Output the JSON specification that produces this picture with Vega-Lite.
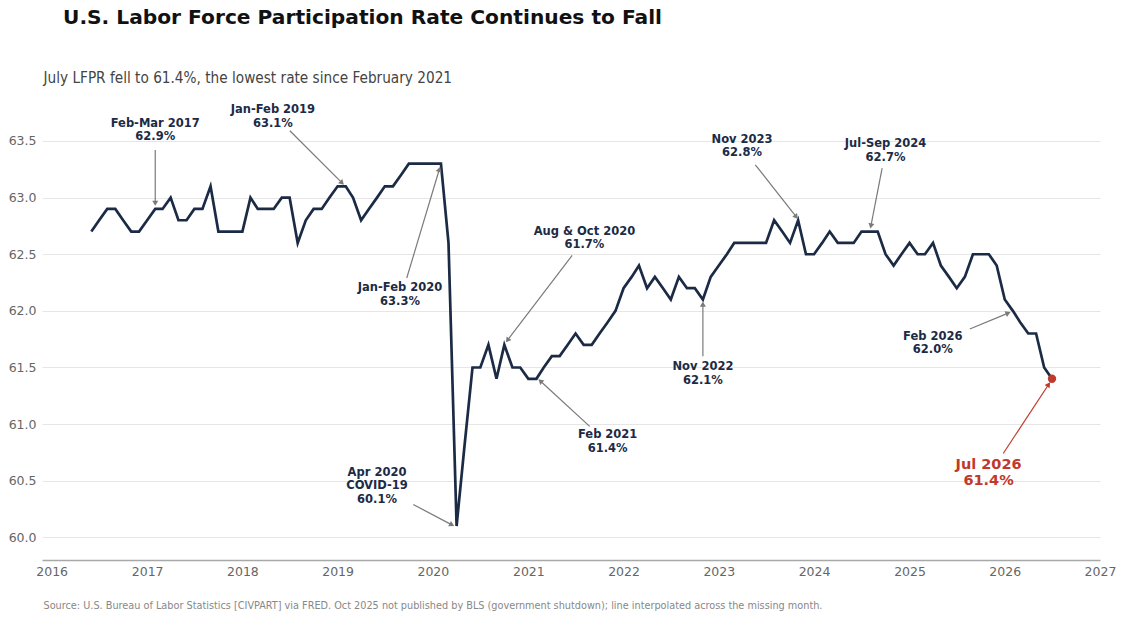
{
  "$schema": "https://vega.github.io/schema/vega-lite/v6.json",
  "description": "U.S. labor force participation rate, monthly, Jun 2016 - Jul 2026",
  "autosize": "none",
  "width": 1058,
  "height": 453,
  "padding": {"left": 42, "top": 107, "right": 25, "bottom": 62},
  "background": "white",
  "title": {
    "text": "U.S. Labor Force Participation Rate Continues to Fall",
    "anchor": "start",
    "frame": "group",
    "dx": 21,
    "offset": 42,
    "font": "DejaVu Sans",
    "fontSize": 20.2,
    "fontWeight": "bold",
    "color": "#111111"
  },
  "config": {
    "view": {"stroke": null},
    "font": "DejaVu Sans"
  },
  "datasets": {
    "lfpr": [
      {"date": "2016-06-01", "value": 62.7}, {"date": "2016-07-01", "value": 62.8}, {"date": "2016-08-01", "value": 62.9},
      {"date": "2016-09-01", "value": 62.9}, {"date": "2016-10-01", "value": 62.8}, {"date": "2016-11-01", "value": 62.7},
      {"date": "2016-12-01", "value": 62.7},
      {"date": "2017-01-01", "value": 62.8}, {"date": "2017-02-01", "value": 62.9}, {"date": "2017-03-01", "value": 62.9},
      {"date": "2017-04-01", "value": 63.0}, {"date": "2017-05-01", "value": 62.8}, {"date": "2017-06-01", "value": 62.8},
      {"date": "2017-07-01", "value": 62.9}, {"date": "2017-08-01", "value": 62.9}, {"date": "2017-09-01", "value": 63.1},
      {"date": "2017-10-01", "value": 62.7}, {"date": "2017-11-01", "value": 62.7}, {"date": "2017-12-01", "value": 62.7},
      {"date": "2018-01-01", "value": 62.7}, {"date": "2018-02-01", "value": 63.0}, {"date": "2018-03-01", "value": 62.9},
      {"date": "2018-04-01", "value": 62.9}, {"date": "2018-05-01", "value": 62.9}, {"date": "2018-06-01", "value": 63.0},
      {"date": "2018-07-01", "value": 63.0}, {"date": "2018-08-01", "value": 62.6}, {"date": "2018-09-01", "value": 62.8},
      {"date": "2018-10-01", "value": 62.9}, {"date": "2018-11-01", "value": 62.9}, {"date": "2018-12-01", "value": 63.0},
      {"date": "2019-01-01", "value": 63.1}, {"date": "2019-02-01", "value": 63.1}, {"date": "2019-03-01", "value": 63.0},
      {"date": "2019-04-01", "value": 62.8}, {"date": "2019-05-01", "value": 62.9}, {"date": "2019-06-01", "value": 63.0},
      {"date": "2019-07-01", "value": 63.1}, {"date": "2019-08-01", "value": 63.1}, {"date": "2019-09-01", "value": 63.2},
      {"date": "2019-10-01", "value": 63.3}, {"date": "2019-11-01", "value": 63.3}, {"date": "2019-12-01", "value": 63.3},
      {"date": "2020-01-01", "value": 63.3}, {"date": "2020-02-01", "value": 63.3}, {"date": "2020-03-01", "value": 62.6},
      {"date": "2020-04-01", "value": 60.1}, {"date": "2020-05-01", "value": 60.8}, {"date": "2020-06-01", "value": 61.5},
      {"date": "2020-07-01", "value": 61.5}, {"date": "2020-08-01", "value": 61.7}, {"date": "2020-09-01", "value": 61.4},
      {"date": "2020-10-01", "value": 61.7}, {"date": "2020-11-01", "value": 61.5}, {"date": "2020-12-01", "value": 61.5},
      {"date": "2021-01-01", "value": 61.4}, {"date": "2021-02-01", "value": 61.4}, {"date": "2021-03-01", "value": 61.5},
      {"date": "2021-04-01", "value": 61.6}, {"date": "2021-05-01", "value": 61.6}, {"date": "2021-06-01", "value": 61.7},
      {"date": "2021-07-01", "value": 61.8}, {"date": "2021-08-01", "value": 61.7}, {"date": "2021-09-01", "value": 61.7},
      {"date": "2021-10-01", "value": 61.8}, {"date": "2021-11-01", "value": 61.9}, {"date": "2021-12-01", "value": 62.0},
      {"date": "2022-01-01", "value": 62.2}, {"date": "2022-02-01", "value": 62.3}, {"date": "2022-03-01", "value": 62.4},
      {"date": "2022-04-01", "value": 62.2}, {"date": "2022-05-01", "value": 62.3}, {"date": "2022-06-01", "value": 62.2},
      {"date": "2022-07-01", "value": 62.1}, {"date": "2022-08-01", "value": 62.3}, {"date": "2022-09-01", "value": 62.2},
      {"date": "2022-10-01", "value": 62.2}, {"date": "2022-11-01", "value": 62.1}, {"date": "2022-12-01", "value": 62.3},
      {"date": "2023-01-01", "value": 62.4}, {"date": "2023-02-01", "value": 62.5}, {"date": "2023-03-01", "value": 62.6},
      {"date": "2023-04-01", "value": 62.6}, {"date": "2023-05-01", "value": 62.6}, {"date": "2023-06-01", "value": 62.6},
      {"date": "2023-07-01", "value": 62.6}, {"date": "2023-08-01", "value": 62.8}, {"date": "2023-09-01", "value": 62.7},
      {"date": "2023-10-01", "value": 62.6}, {"date": "2023-11-01", "value": 62.8}, {"date": "2023-12-01", "value": 62.5},
      {"date": "2024-01-01", "value": 62.5}, {"date": "2024-02-01", "value": 62.6}, {"date": "2024-03-01", "value": 62.7},
      {"date": "2024-04-01", "value": 62.6}, {"date": "2024-05-01", "value": 62.6}, {"date": "2024-06-01", "value": 62.6},
      {"date": "2024-07-01", "value": 62.7}, {"date": "2024-08-01", "value": 62.7}, {"date": "2024-09-01", "value": 62.7},
      {"date": "2024-10-01", "value": 62.5}, {"date": "2024-11-01", "value": 62.4}, {"date": "2024-12-01", "value": 62.5},
      {"date": "2025-01-01", "value": 62.6}, {"date": "2025-02-01", "value": 62.5}, {"date": "2025-03-01", "value": 62.5},
      {"date": "2025-04-01", "value": 62.6}, {"date": "2025-05-01", "value": 62.4}, {"date": "2025-06-01", "value": 62.3},
      {"date": "2025-07-01", "value": 62.2}, {"date": "2025-08-01", "value": 62.3}, {"date": "2025-09-01", "value": 62.5},
      {"date": "2025-10-01", "value": 62.5}, {"date": "2025-11-01", "value": 62.5}, {"date": "2025-12-01", "value": 62.4},
      {"date": "2026-01-01", "value": 62.1}, {"date": "2026-02-01", "value": 62.0}, {"date": "2026-03-01", "value": 61.9},
      {"date": "2026-04-01", "value": 61.8}, {"date": "2026-05-01", "value": 61.8}, {"date": "2026-06-01", "value": 61.5},
      {"date": "2026-07-01", "value": 61.4}
    ],
    "notes": [
      {"label": "Feb-Mar 2017\n62.9%", "kind": "normal", "tx": "2017-02-01", "ty": 63.65, "ax": "2017-02-01", "ay": 63.42, "hx": "2017-02-01", "hy": 62.95},
      {"label": "Jan-Feb 2019\n63.1%", "kind": "normal", "tx": "2018-04-28", "ty": 63.77, "ax": "2018-07-02", "ay": 63.59, "hx": "2019-01-18", "hy": 63.13},
      {"label": "Jan-Feb 2020\n63.3%", "kind": "normal", "tx": "2019-08-28", "ty": 62.2, "ax": "2019-09-23", "ay": 62.29, "hx": "2020-01-26", "hy": 63.25},
      {"label": "Apr 2020\nCOVID-19\n60.1%", "kind": "normal", "tx": "2019-06-01", "ty": 60.57, "ax": "2019-10-18", "ay": 60.29, "hx": "2020-03-14", "hy": 60.11},
      {"label": "Aug & Oct 2020\n61.7%", "kind": "normal", "tx": "2021-08-04", "ty": 62.7, "ax": "2021-06-18", "ay": 62.49, "hx": "2020-10-13", "hy": 61.74},
      {"label": "Feb 2021\n61.4%", "kind": "normal", "tx": "2021-11-01", "ty": 60.9, "ax": "2021-08-24", "ay": 60.98, "hx": "2021-02-16", "hy": 61.38},
      {"label": "Nov 2022\n62.1%", "kind": "normal", "tx": "2022-11-01", "ty": 61.5, "ax": "2022-11-01", "ay": 61.6, "hx": "2022-11-01", "hy": 62.06},
      {"label": "Nov 2023\n62.8%", "kind": "normal", "tx": "2023-03-31", "ty": 63.51, "ax": "2023-05-21", "ay": 63.29, "hx": "2023-10-25", "hy": 62.83},
      {"label": "Jul-Sep 2024\n62.7%", "kind": "normal", "tx": "2024-10-01", "ty": 63.47, "ax": "2024-09-18", "ay": 63.26, "hx": "2024-08-06", "hy": 62.75},
      {"label": "Feb 2026\n62.0%", "kind": "normal", "tx": "2025-03-31", "ty": 61.77, "ax": "2025-08-20", "ay": 61.84, "hx": "2026-01-14", "hy": 61.98},
      {"label": "Jul 2026\n61.4%", "kind": "latest", "tx": "2025-10-31", "ty": 60.64, "ax": "2025-12-26", "ay": 60.74, "hx": "2026-06-18", "hy": 61.35}
    ]
  },
  "layer": [
    {
      "data": {"name": "lfpr"},
      "mark": {"type": "line", "color": "#1c2b45", "strokeWidth": 2.7},
      "encoding": {
        "x": {
          "field": "date",
          "type": "temporal",
          "scale": {
            "type": "utc",
            "domain": [
              {"year": 2015, "month": 11, "date": 25, "utc": true},
              {"year": 2027, "month": 1, "date": 1, "utc": true}
            ],
            "nice": false
          },
          "axis": {
            "title": "Source: U.S. Bureau of Labor Statistics [CIVPART] via FRED. Oct 2025 not published by BLS (government shutdown); line interpolated across the missing month.",
            "titleX": 1,
            "titleY": 45,
            "titleAlign": "left",
            "titleAnchor": "start",
            "titleBaseline": "middle",
            "titleFont": "DejaVu Sans Condensed",
            "titleFontSize": 10.8,
            "titleFontWeight": "normal",
            "titleColor": "#888888",
            "format": "%Y",
            "tickCount": {"interval": "year", "step": 1},
            "ticks": false,
            "grid": false,
            "domainColor": "#a8a8a8",
            "domainWidth": 1.3,
            "labelColor": "#666666",
            "labelFontSize": 12.5,
            "labelPadding": 5,
            "labelFlush": false
          }
        },
        "y": {
          "field": "value",
          "type": "quantitative",
          "scale": {"domain": [59.8, 63.8], "nice": false, "zero": false},
          "axis": {
            "title": "July LFPR fell to 61.4%, the lowest rate since February 2021",
            "titleAngle": 0,
            "titleX": 1,
            "titleY": -30,
            "titleAlign": "left",
            "titleBaseline": "middle",
            "titleFont": "DejaVu Sans Condensed",
            "titleFontSize": 15.2,
            "titleFontWeight": "normal",
            "titleColor": "#444444",
            "values": [60.0, 60.5, 61.0, 61.5, 62.0, 62.5, 63.0, 63.5],
            "format": ".1f",
            "domain": false,
            "ticks": false,
            "gridColor": "#e6e6e6",
            "gridWidth": 1,
            "labelColor": "#666666",
            "labelFontSize": 12.5,
            "labelPadding": 6
          }
        }
      }
    },
    {
      "data": {"name": "notes"},
      "mark": {"type": "rule", "strokeWidth": 1.2},
      "encoding": {
        "x": {"field": "ax", "type": "temporal"},
        "y": {"field": "ay", "type": "quantitative"},
        "x2": {"field": "hx"},
        "y2": {"field": "hy"},
        "color": {
          "field": "kind",
          "type": "nominal",
          "scale": {"domain": ["normal", "latest"], "range": ["#7a7a7a", "#c0392b"]},
          "legend": null
        }
      }
    },
    {
      "data": {"name": "notes"},
      "transform": [
        {"calculate": "atan2((toDate(datum.hx) - toDate(datum.ax)) * 3.02e-9, (datum.hy - datum.ay) * 113.25) * 180 / PI", "as": "heading"}
      ],
      "mark": {"type": "point", "shape": "triangle-up", "filled": true, "opacity": 1, "size": 36},
      "encoding": {
        "x": {"field": "hx", "type": "temporal"},
        "y": {"field": "hy", "type": "quantitative"},
        "angle": {"field": "heading", "type": "quantitative", "scale": null},
        "color": {
          "field": "kind",
          "type": "nominal",
          "scale": {"domain": ["normal", "latest"], "range": ["#7a7a7a", "#c0392b"]},
          "legend": null
        }
      }
    },
    {
      "data": {"name": "notes"},
      "transform": [{"filter": "datum.kind == 'normal'"}],
      "mark": {
        "type": "text",
        "lineBreak": "\n",
        "lineHeight": 13.5,
        "align": "center",
        "baseline": "middle",
        "font": "DejaVu Sans",
        "fontSize": 11.5,
        "fontWeight": "bold",
        "color": "#1c2b45"
      },
      "encoding": {
        "x": {"field": "tx", "type": "temporal"},
        "y": {"field": "ty", "type": "quantitative"},
        "text": {"field": "label"}
      }
    },
    {
      "data": {"name": "notes"},
      "transform": [{"filter": "datum.kind == 'latest'"}],
      "mark": {
        "type": "text",
        "lineBreak": "\n",
        "lineHeight": 16,
        "align": "center",
        "baseline": "middle",
        "font": "DejaVu Sans",
        "fontSize": 14.5,
        "fontWeight": "bold",
        "color": "#c0392b"
      },
      "encoding": {
        "x": {"field": "tx", "type": "temporal"},
        "y": {"field": "ty", "type": "quantitative"},
        "text": {"field": "label"}
      }
    },
    {
      "data": {"name": "lfpr"},
      "transform": [{"filter": "year(datum.date) == 2026 && month(datum.date) == 6"}],
      "mark": {"type": "point", "filled": true, "opacity": 1, "size": 70, "color": "#c0392b"},
      "encoding": {
        "x": {"field": "date", "type": "temporal"},
        "y": {"field": "value", "type": "quantitative"}
      }
    }
  ]
}
